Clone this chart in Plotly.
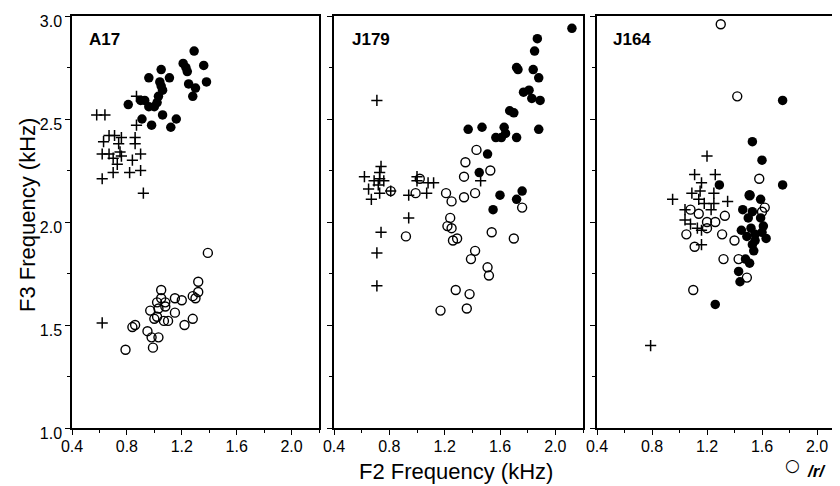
import plotly.graph_objects as go

# ---------------- data (F2 kHz, F3 kHz) ----------------
a17_filled_f2 = [1.29,1.21,1.23,1.24,1.36,1.38,1.25,1.30,1.28,0.96,1.05,1.11,1.04,1.06,1.03,1.02,1.00,0.96,0.90,0.81,1.06,0.91,0.98,1.12,1.16,0.93,1.05]
a17_filled_f3 = [2.83,2.77,2.75,2.73,2.76,2.68,2.67,2.65,2.61,2.70,2.74,2.70,2.68,2.64,2.61,2.58,2.56,2.56,2.59,2.57,2.52,2.50,2.47,2.46,2.50,2.59,2.66]
a17_plus_f2 = [0.58,0.64,0.87,0.87,0.67,0.71,0.76,0.63,0.74,0.86,0.86,0.62,0.67,0.70,0.75,0.76,0.73,0.84,0.90,0.62,0.70,0.82,0.90,0.92,0.62]
a17_plus_f3 = [2.52,2.52,2.61,2.47,2.42,2.42,2.41,2.39,2.38,2.41,2.38,2.33,2.33,2.31,2.34,2.32,2.28,2.30,2.33,2.21,2.24,2.24,2.25,2.14,1.51]
a17_open_f2 = [1.39,1.32,1.32,1.28,1.30,1.05,1.05,1.02,1.08,1.15,1.20,0.97,1.03,1.08,1.15,1.00,1.02,1.07,1.10,1.28,1.22,0.84,0.86,0.95,0.98,1.03,0.99,0.79]
a17_open_f3 = [1.85,1.71,1.66,1.64,1.63,1.67,1.63,1.61,1.61,1.63,1.62,1.57,1.58,1.59,1.56,1.53,1.54,1.52,1.52,1.53,1.50,1.49,1.50,1.47,1.44,1.44,1.39,1.38]

j179_filled_f2 = [2.12,1.87,1.85,1.72,1.73,1.84,1.88,1.77,1.81,1.83,1.89,1.67,1.70,1.37,1.47,1.63,1.57,1.61,1.64,1.72,1.88,1.51,1.45,1.60,1.76,1.72,1.55]
j179_filled_f3 = [2.94,2.89,2.83,2.75,2.74,2.74,2.70,2.63,2.64,2.60,2.59,2.54,2.53,2.45,2.46,2.46,2.41,2.41,2.43,2.41,2.45,2.33,2.24,2.13,2.15,2.11,2.06]
j179_open_f2 = [1.43,1.35,1.34,1.53,1.42,1.34,1.21,1.25,1.76,1.24,1.22,1.25,1.26,1.29,0.92,1.54,1.70,1.42,1.39,1.51,1.52,1.28,1.38,1.17,1.36,0.81,1.02,0.99]
j179_open_f3 = [2.35,2.29,2.22,2.25,2.14,2.12,2.14,2.10,2.07,2.02,1.98,1.97,1.91,1.92,1.93,1.95,1.92,1.86,1.82,1.78,1.74,1.67,1.65,1.57,1.58,2.15,2.21,2.14]
j179_plus_f2 = [0.71,0.74,0.73,0.62,0.69,0.73,0.76,0.65,0.72,0.73,0.67,0.81,1.00,1.00,1.08,1.12,0.94,1.07,1.46,0.94,0.74,0.71,0.71]
j179_plus_f3 = [2.59,2.27,2.24,2.22,2.20,2.21,2.20,2.16,2.18,2.14,2.11,2.15,2.22,2.20,2.19,2.19,2.13,2.14,2.20,2.02,1.95,1.85,1.69]

j164_open_f2 = [1.30,1.42,1.58,1.51,1.62,1.60,1.33,1.26,1.20,1.20,1.14,1.08,1.05,1.11,1.31,1.40,1.32,1.43,1.49,1.10]
j164_open_f3 = [2.96,2.61,2.21,2.13,2.07,2.05,2.03,2.00,2.00,1.97,2.04,2.06,1.94,1.88,1.94,1.91,1.82,1.82,1.73,1.67]
j164_filled_f2 = [1.75,1.53,1.60,1.75,1.29,1.51,1.59,1.46,1.53,1.59,1.50,1.52,1.61,1.45,1.49,1.55,1.60,1.63,1.53,1.55,1.54,1.48,1.51,1.43,1.44,1.26]
j164_filled_f3 = [2.59,2.39,2.30,2.18,2.18,2.13,2.11,2.06,2.05,2.02,2.02,1.97,1.98,1.96,1.93,1.94,1.95,1.92,1.89,1.91,1.86,1.82,1.80,1.76,1.71,1.60]
j164_plus_f2 = [1.20,1.11,1.26,1.16,1.15,1.09,1.25,0.95,1.14,1.18,1.25,1.35,1.23,1.04,1.04,1.08,1.13,1.16,1.16,0.79]
j164_plus_f3 = [2.32,2.23,2.23,2.19,2.15,2.14,2.14,2.11,2.11,2.09,2.09,2.10,2.06,2.06,2.01,1.99,1.97,1.96,1.89,1.40]

panel_names = ["A17", "J179", "J164"]
x_ticks = [0.4, 0.8, 1.2, 1.6, 2.0]
y_ticks = [1.0, 1.5, 2.0, 2.5, 3.0]

panels = [
    (a17_plus_f2, a17_plus_f3, a17_open_f2, a17_open_f3, a17_filled_f2, a17_filled_f3),
    (j179_plus_f2, j179_plus_f3, j179_open_f2, j179_open_f3, j179_filled_f2, j179_filled_f3),
    (j164_plus_f2, j164_plus_f3, j164_open_f2, j164_open_f3, j164_filled_f2, j164_filled_f3),
]

FONT = "Liberation Sans, Arial, sans-serif"
TICKFONT = "Liberation Sans Narrow, Arial Narrow, Liberation Sans, sans-serif"
fig = go.Figure()

for i, (pf2, pf3, of2, of3, ff2, ff3) in enumerate(panels):
    xa = "x" if i == 0 else f"x{i+1}"
    ya = "y" if i == 0 else f"y{i+1}"
    fig.add_trace(go.Scatter(x=pf2, y=pf3, mode="markers", xaxis=xa, yaxis=ya, showlegend=False,
                             marker=dict(symbol="cross-thin", size=8, color="black",
                                         line=dict(color="black", width=1.5))))
    fig.add_trace(go.Scatter(x=of2, y=of3, mode="markers", xaxis=xa, yaxis=ya, showlegend=False,
                             marker=dict(symbol="circle-open", size=9, color="black",
                                         line=dict(color="black", width=1.4))))
    fig.add_trace(go.Scatter(x=ff2, y=ff3, mode="markers", xaxis=xa, yaxis=ya, showlegend=False,
                             marker=dict(symbol="circle", size=9.5, color="black",
                                         line=dict(width=0))))

# page body has an 8px margin, so the figure is drawn 8px smaller and offset
W, H = 832, 478
L, R, T, B = 64, 0, 8, 58
pw = W - L - R
ph = H - T - B
domains = [[0, (319 - 72) / pw], [(334 - 72) / pw, (583 - 72) / pw], [(597 - 72) / pw, 1.0]]
x_ranges = [[0.4, 2.2], [0.4, 2.2], [0.4, 0.4 + (840 - 597) / 137.5]]

def xaxis_cfg(i):
    return dict(domain=domains[i], range=x_ranges[i], anchor="y" if i == 0 else f"y{i+1}",
                showline=True, linecolor="black", linewidth=1.5, mirror=True,
                ticks="outside", ticklen=5, tickwidth=1.2, tickcolor="black",
                tickvals=x_ticks, ticktext=[f"{v:.1f}" for v in x_ticks],
                minor=dict(tickvals=[0.6, 1.0, 1.4, 1.8, 2.2], ticks="outside", ticklen=3, tickcolor="black", tickwidth=1),
                showgrid=False, zeroline=False, ticklabeloverflow="allow", ticklabelstandoff=-2,
                tickfont=dict(family=TICKFONT, size=16, color="black"))

def yaxis_cfg(i):
    return dict(domain=[0, 1], range=[1.0, 3.0], anchor="x" if i == 0 else f"x{i+1}",
                showline=True, linecolor="black", linewidth=1.5, mirror=(i < 2),
                ticks="outside", ticklen=5, tickwidth=1.2, tickcolor="black",
                tickvals=y_ticks, ticktext=[f"{v:.1f}" for v in y_ticks],
                showticklabels=(i == 0), ticklabeloverflow="allow", ticklabelshift=5,
                minor=dict(tickvals=[1.25, 1.75, 2.25, 2.75], ticks="outside", ticklen=3, tickcolor="black", tickwidth=1),
                showgrid=False, zeroline=False,
                tickfont=dict(family=TICKFONT, size=16, color="black"))

layout = dict(
    width=W, height=H,
    margin=dict(l=L, r=R, t=T, b=B, pad=0),
    paper_bgcolor="white", plot_bgcolor="white",
    font=dict(family=FONT, color="black"),
    showlegend=False,
)
for i in range(3):
    layout["xaxis" if i == 0 else f"xaxis{i+1}"] = xaxis_cfg(i)
    layout["yaxis" if i == 0 else f"yaxis{i+1}"] = yaxis_cfg(i)
fig.update_layout(**layout)

label_x = [0.06, 0.064, 0.057]
for i, name in enumerate(panel_names):
    xa = "x" if i == 0 else f"x{i+1}"
    ya = "y" if i == 0 else f"y{i+1}"
    fig.add_annotation(text=f"<b>{name}</b>", x=label_x[i], y=0.942,
                       xref=f"{xa} domain", yref=f"{ya} domain",
                       xanchor="left", yanchor="middle", showarrow=False,
                       font=dict(family=FONT, size=17, color="black"))

# axis titles (positions in screen pixels converted to paper units)
fig.add_annotation(text="F2 Frequency (kHz)", x=(456 - 72) / pw, y=-(471 - 428) / ph,
                   xref="paper", yref="paper", xanchor="center", yanchor="middle",
                   showarrow=False, font=dict(family=FONT, size=22, color="black"))
fig.add_annotation(text="F3 Frequency (kHz)", x=-(72 - 27) / pw, y=(428 - 215) / ph,
                   xref="paper", yref="paper", xanchor="center", yanchor="middle", textangle=-90,
                   showarrow=False, font=dict(family=FONT, size=22, color="black"))

# legend key
fig.add_annotation(text="○", x=(792 - 72) / pw, y=-(465 - 428) / ph,
                   xref="paper", yref="paper", xanchor="center", yanchor="middle",
                   showarrow=False, font=dict(family="DejaVu Sans", size=17, color="black"))
fig.add_annotation(text="<i><b>/r/</b></i>", x=(805 - 72) / pw, y=-(471 - 428) / ph,
                   xref="paper", yref="paper", xanchor="left", yanchor="middle",
                   showarrow=False, font=dict(family=FONT, size=17, color="black"))

fig.write_html("out.html")
